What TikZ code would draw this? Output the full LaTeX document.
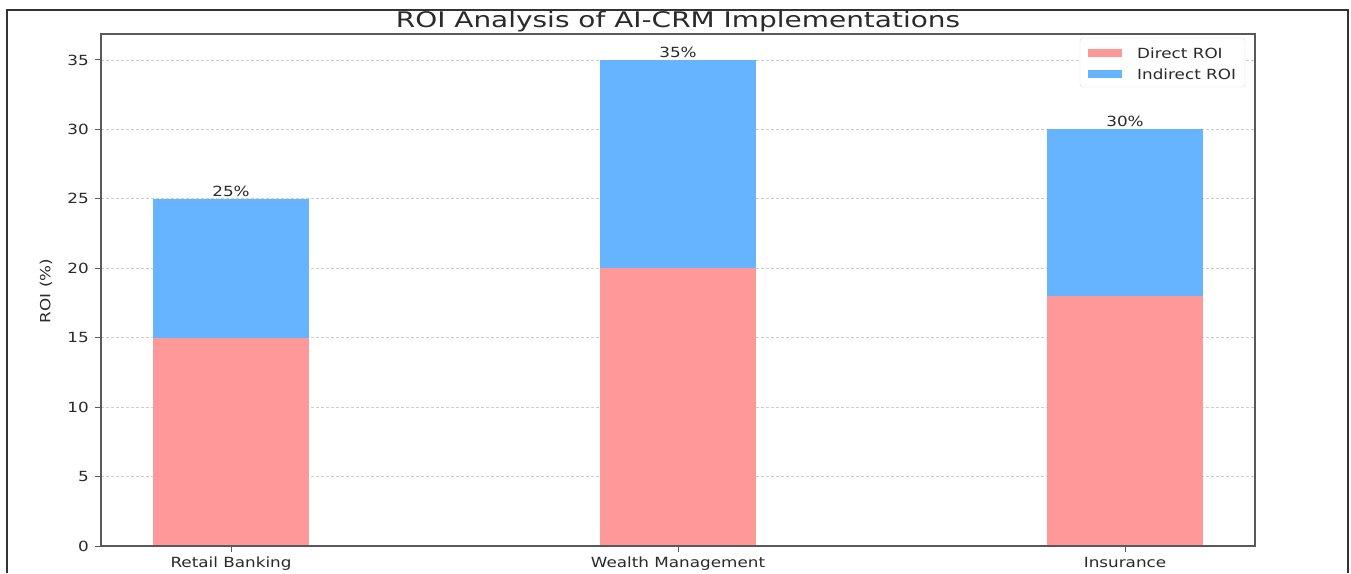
\documentclass[tikz,border=0pt]{standalone}
\usepackage{fontspec}
\setmainfont{DejaVu Sans}[FakeStretch=1.2]
\newfontfamily\titlefont{DejaVu Sans}[FakeStretch=1.3]
\definecolor{directc}{HTML}{FF9999}
\definecolor{indirectc}{HTML}{66B3FF}
\definecolor{txt}{HTML}{2A2A2A}
\begin{document}
\begin{tikzpicture}[x=1pt,y=-1pt,
  lab/.style={font=\fontsize{14}{16}\selectfont, text=txt, inner sep=0pt},
  spine/.style={draw=black!65, line width=1.3pt},
  gridline/.style={draw=black!20, line width=0.9pt, dash pattern=on 2.5pt off 2.5pt},
  tickmark/.style={draw=black!65, line width=1pt},
  frame/.style={draw=black!80, line width=1.2pt}]
\useasboundingbox (0,0) rectangle (1351,573);
\fill[white] (0,0) rectangle (1351,573);
% outer frame (bottom edge cut off)
\draw[frame] (7,573) -- (7,10) -- (1348,10) -- (1348,573);
% grid
\foreach \v in {5,10,...,35} {
  \draw[gridline] (101,{546-13.886*\v}) -- (1255,{546-13.886*\v});
}
% bars
\foreach \c/\d/\t in {231/15/25, 678/20/35, 1125/18/30} {
  \fill[directc] ({\c-78},546) rectangle ({\c+78},{546-13.886*\d});
  \fill[indirectc] ({\c-78},{546-13.886*\d}) rectangle ({\c+78},{546-13.886*\t});
}
% bar labels
\node[lab, anchor=base] (l1) at (231,196) {25\%};
\node[lab, anchor=base] (l2) at (678,57) {35\%};
\node[lab, anchor=base] (l3) at (1125,126) {30\%};
% spines
\draw[spine] (101,34) rectangle (1255,546);
% y ticks
\foreach \v in {0,5,...,35} {
  \draw[tickmark] (95,{546-13.886*\v}) -- (101,{546-13.886*\v});
  \node[lab, anchor=east] (yt\v) at (89,{546-13.886*\v}) {\v};
}
% x ticks
\foreach \c in {231,678,1125} {
  \draw[tickmark] (\c,546) -- (\c,552);
}
\node[lab, anchor=base] (xt1) at (231,567) {Retail Banking};
\node[lab, anchor=base] (xt2) at (678,567) {Wealth Management};
\node[lab, anchor=base] (xt3) at (1125,567) {Insurance};
% y label
\node[lab, rotate=90] (ylab) at (46,291) {ROI (\%)};
% title
\node[inner sep=0pt, anchor=base, text=txt, font=\titlefont\fontsize{21.5}{24}\selectfont] (title) at (678,27) {ROI Analysis of AI-CRM Implementations};
% legend
\draw[rounded corners=3pt, draw=black!15, fill=white] (1080,38) rectangle (1245,87);
\fill[directc] (1088,49) rectangle (1122,57);
\fill[indirectc] (1088,70) rectangle (1122,78);
\node[lab, anchor=west] (leg1) at (1137,53) {Direct ROI};
\node[lab, anchor=west] (leg2) at (1137,74) {Indirect ROI};
\end{tikzpicture}
\end{document}
